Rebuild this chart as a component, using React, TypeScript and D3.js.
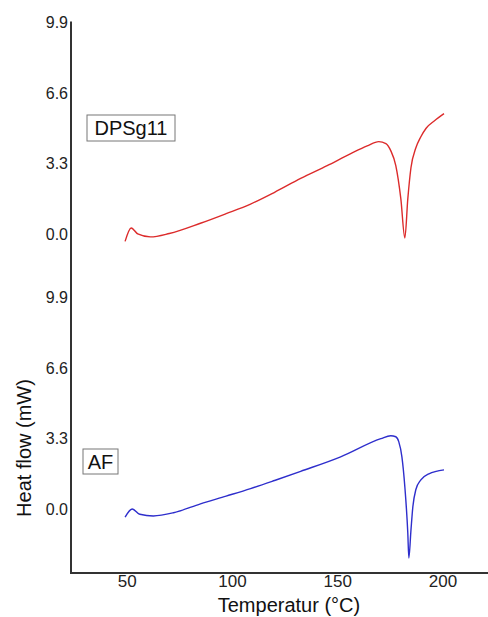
import React from 'react';
import * as d3 from 'd3';

// DSC traces (temperature in °C, heat flow in mW)
const tempDPS = [49, 51.9, 55, 61, 70, 84.8, 97, 108.6, 120, 132.4, 145, 156.2, 164, 169.5, 172.9, 175.2, 177.6, 180, 181.9, 183.3, 184.8, 187.1, 189.5, 192, 196, 200.5];
const flowDPS = [-0.35, 0.28, 0.0, -0.14, 0.02, 0.5, 0.95, 1.4, 1.95, 2.6, 3.2, 3.76, 4.12, 4.32, 4.23, 3.9, 3.2, 1.64, -0.19, 1.64, 3.1, 4.02, 4.55, 4.95, 5.3, 5.63];

const tempAF = [49, 52.4, 56, 62.4, 72, 84.8, 97, 108.6, 120, 132.4, 151.4, 170.5, 175.2, 177.6, 179, 180.5, 181.9, 183.3, 183.8, 184.8, 185.7, 187.1, 189.5, 193.3, 200.5];
const flowAF = [-0.38, 0.0, -0.25, -0.33, -0.18, 0.24, 0.6, 0.95, 1.33, 1.76, 2.44, 3.29, 3.43, 3.38, 3.15, 2.44, 1.03, -1.13, -2.3, -0.99, 0.1, 0.9, 1.36, 1.64, 1.83];

const xTicks = [50, 100, 150, 200];
const yTicks = [0, 3.3, 6.6, 9.9];

const font = '"Liberation Sans", Arial, sans-serif';

export default function App() {
  const width = 488;
  const height = 617;
  const left = 71;
  const axisBottom = 573;

  const x = d3.scaleLinear().domain([23.3, 221.4]).range([left, 488]);
  const yTop = d3.scaleLinear().domain([-3, 9.9]).range([298, 22.5]);
  const yBot = d3.scaleLinear().domain([-3, 9.9]).range([axisBottom, 297.5]);

  const panels = [
    { y: yTop, temps: tempDPS, flows: flowDPS, color: '#dc2b2b', label: 'DPSg11', box: [87, 115, 88, 26] },
    { y: yBot, temps: tempAF, flows: flowAF, color: '#2e2ecc', label: 'AF', box: [83, 449, 35, 25] },
  ];

  return (
    <svg width={width} height={height} style={{ position: 'absolute', left: 0, top: 0, background: '#fff' }}>
      {panels.map((p, i) => {
        const data = p.temps.map((t, j) => [t, p.flows[j]] as [number, number]);
        const line = d3.line<[number, number]>()
          .x(d => x(d[0]))
          .y(d => p.y(d[1]))
          .curve(d3.curveMonotoneX);
        return (
          <g key={i}>
            {yTicks.map(t => (
              <text key={t} x={68} y={p.y(t)} dy="0.35em" textAnchor="end"
                fontFamily={font} fontSize={16} fill="#222">{t.toFixed(1)}</text>
            ))}
            <path d={line(data) || ''} fill="none" stroke={p.color} strokeWidth={1.4} />
            <rect x={p.box[0]} y={p.box[1]} width={p.box[2]} height={p.box[3]}
              fill="#fff" stroke="#777" strokeWidth={1} />
            <text x={p.box[0] + p.box[2] / 2} y={p.box[1] + p.box[3] / 2} dy="0.36em"
              textAnchor="middle" fontFamily={font} fontSize={20} fill="#111">{p.label}</text>
          </g>
        );
      })}
      <line x1={left} x2={left} y1={21.5} y2={axisBottom + 1} stroke="#333" strokeWidth={2} />
      <line x1={left - 1} x2={488} y1={axisBottom} y2={axisBottom} stroke="#333" strokeWidth={2} />
      {xTicks.map(t => (
        <text key={t} x={x(t)} y={587} textAnchor="middle" fontFamily={font} fontSize={17} fill="#222">{t}</text>
      ))}
      <text x={289} y={612} textAnchor="middle" fontFamily={font} fontSize={20} fill="#111">Temperatur (°C)</text>
      <text transform="translate(31,448) rotate(-90)" textAnchor="middle" fontFamily={font} fontSize={20} fill="#111">Heat flow (mW)</text>
    </svg>
  );
}
